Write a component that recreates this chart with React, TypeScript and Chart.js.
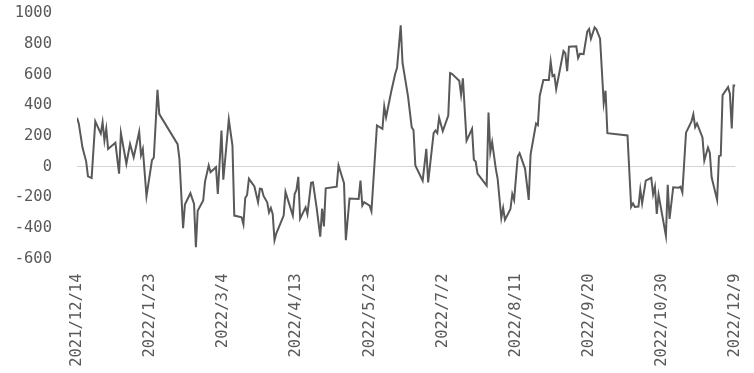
import React, { useEffect, useRef } from "react";
import { Chart, registerables } from "chart.js";

Chart.register(...registerables);

const startDate = "2021/12/14";

const dates = [
  "2021/12/14", "2021/12/15", "2021/12/17", "2021/12/19", "2021/12/20", "2021/12/22", "2021/12/24",
  "2021/12/27", "2021/12/28", "2021/12/29", "2021/12/30", "2021/12/31",
  "2022/1/4", "2022/1/6", "2022/1/7", "2022/1/10", "2022/1/12", "2022/1/14", "2022/1/17", "2022/1/18",
  "2022/1/19", "2022/1/21", "2022/1/24", "2022/1/25", "2022/1/27", "2022/1/28",
  "2022/2/7", "2022/2/8", "2022/2/10", "2022/2/11", "2022/2/14", "2022/2/16", "2022/2/17", "2022/2/18",
  "2022/2/21", "2022/2/22", "2022/2/24", "2022/2/25", "2022/2/28",
  "2022/3/1", "2022/3/3", "2022/3/4", "2022/3/7", "2022/3/9", "2022/3/10", "2022/3/14", "2022/3/15",
  "2022/3/16", "2022/3/17", "2022/3/18", "2022/3/21", "2022/3/23", "2022/3/24", "2022/3/25", "2022/3/26",
  "2022/3/28", "2022/3/29", "2022/3/30", "2022/3/31",
  "2022/4/1", "2022/4/2", "2022/4/6", "2022/4/7", "2022/4/11", "2022/4/12", "2022/4/13", "2022/4/14",
  "2022/4/15", "2022/4/18", "2022/4/19", "2022/4/21", "2022/4/22", "2022/4/24", "2022/4/26", "2022/4/27",
  "2022/4/28", "2022/4/29",
  "2022/5/5", "2022/5/6", "2022/5/9", "2022/5/10", "2022/5/12", "2022/5/17", "2022/5/18", "2022/5/19",
  "2022/5/20", "2022/5/23", "2022/5/24", "2022/5/27", "2022/5/30", "2022/5/31",
  "2022/6/1", "2022/6/4", "2022/6/6", "2022/6/7", "2022/6/9", "2022/6/10", "2022/6/13", "2022/6/15",
  "2022/6/16", "2022/6/17", "2022/6/21", "2022/6/23", "2022/6/24", "2022/6/27", "2022/6/28", "2022/6/29",
  "2022/6/30",
  "2022/7/2", "2022/7/5", "2022/7/6", "2022/7/7", "2022/7/11", "2022/7/12", "2022/7/13", "2022/7/15",
  "2022/7/18", "2022/7/19", "2022/7/20", "2022/7/21", "2022/7/26", "2022/7/27", "2022/7/28", "2022/7/29",
  "2022/7/31",
  "2022/8/1", "2022/8/3", "2022/8/4", "2022/8/5", "2022/8/8", "2022/8/9", "2022/8/10", "2022/8/12",
  "2022/8/13", "2022/8/16", "2022/8/18", "2022/8/19", "2022/8/22", "2022/8/23", "2022/8/24", "2022/8/26",
  "2022/8/29", "2022/8/30", "2022/8/31",
  "2022/9/1", "2022/9/2", "2022/9/6", "2022/9/7", "2022/9/8", "2022/9/9", "2022/9/13", "2022/9/14",
  "2022/9/15", "2022/9/17", "2022/9/19", "2022/9/20", "2022/9/21", "2022/9/23", "2022/9/24", "2022/9/26",
  "2022/9/28", "2022/9/29", "2022/9/30",
  "2022/10/11", "2022/10/13", "2022/10/14", "2022/10/15", "2022/10/17", "2022/10/18", "2022/10/19",
  "2022/10/21", "2022/10/24", "2022/10/25", "2022/10/26", "2022/10/27", "2022/10/28",
  "2022/11/1", "2022/11/2", "2022/11/3", "2022/11/5", "2022/11/8", "2022/11/9", "2022/11/10", "2022/11/12",
  "2022/11/15", "2022/11/16", "2022/11/17", "2022/11/18", "2022/11/21", "2022/11/22", "2022/11/24",
  "2022/11/25", "2022/11/26", "2022/11/29", "2022/11/30",
  "2022/12/1", "2022/12/2", "2022/12/5", "2022/12/6", "2022/12/7", "2022/12/8", "2022/12/9",
];

const values = [
  318, 280, 124, 34, -64, -75, 295,
  215, 289, 170, 247, 115,
  155, -46, 219, 18, 148, 61, 226, 75,
  115, -194, 42, 58, 501, 342,
  146, 50, -402, -248, -174, -244, -527, -288,
  -222, -98, 7, -37, -4,
  -179, 235, -86, 307, 137, -320, -331, -377,
  -205, -185, -80, -130, -233, -144, -146, -192,
  -233, -299, -270, -309,
  -481, -436, -320, -165, -320, -179, -153, -67,
  -340, -266, -311, -106, -103, -266, -458, -275,
  -391, -142,
  -131, 7, -109, -481, -209, -211, -92, -255,
  -233, -255, -292, 268, 246, 392,
  322, 500, 606, 645, 922, 676, 458, 257,
  237, 7, -92, 115, -103, 218, 235, 218,
  318,
  231, 333, 610, 605, 560, 469, 575, 168,
  246, 44, 33, -46, -124, 353, 93, 159,
  -15,
  -80, -336, -271, -348, -277, -179, -218, 66,
  87, -15, -218, 78, 281, 270, 461, 565,
  565, 684, 590,
  598, 505, 754, 740, 622, 782, 785, 709,
  736, 734, 881, 898, 834, 908, 895, 834,
  414, 495, 218,
  203, -263, -240, -263, -261, -149, -240,
  -92, -74, -182, -131, -309, -185,
  -451, -119, -342, -135, -138, -131, -168, 221,
  295, 341, 257, 281, 190, 39, 124,
  90, -70, -218, 68,
  72, 466, 518, 475, 248, 529, 529,
];

const xTickDates = [
  "2021/12/14", "2022/1/23", "2022/3/4", "2022/4/13", "2022/5/23",
  "2022/7/2", "2022/8/11", "2022/9/20", "2022/10/30", "2022/12/9",
];

const yMin = -600;
const yMax = 1000;
const yStep = 200;

function toUTC(s: string): number {
  const [y, m, d] = s.split("/").map(Number);
  return Date.UTC(y, m - 1, d);
}

function dayOffset(s: string): number {
  return Math.round((toUTC(s) - toUTC(startDate)) / 86400000);
}

const FONT = "'DejaVu Sans Mono', monospace";
const TEXT = "#595959";
const CLEAR = "rgba(0,0,0,0)";

export default function App() {
  const canvasRef = useRef<HTMLCanvasElement | null>(null);

  useEffect(() => {
    if (!canvasRef.current) return;
    const points = dates.map((d, i) => ({ x: dayOffset(d), y: values[i] }));
    const tickMap = new Map<number, string>();
    xTickDates.forEach((d) => tickMap.set(dayOffset(d), d));
    const xMax = dayOffset(xTickDates[xTickDates.length - 1]);

    const chart = new Chart(canvasRef.current, {
      type: "line",
      data: {
        datasets: [
          {
            data: points,
            borderColor: "#595959",
            borderWidth: 2,
            pointRadius: 0,
            tension: 0,
            fill: false,
          },
        ],
      },
      options: {
        animation: false,
        responsive: false,
        maintainAspectRatio: false,
        parsing: false,
        layout: { padding: { top: 13.3, right: 15, left: 0, bottom: 0 } },
        plugins: {
          legend: { display: false },
          tooltip: { enabled: false },
        },
        scales: {
          x: {
            type: "linear",
            min: 0,
            max: xMax,
            grid: { display: false, drawTicks: true, tickLength: 15, tickColor: CLEAR },
            border: { display: false },
            afterBuildTicks: (scale: any) => {
              scale.ticks = xTickDates.map((d) => ({ value: dayOffset(d) }));
            },
            afterFit: (scale: any) => {
              scale.height = 114.5;
            },
            ticks: {
              autoSkip: false,
              minRotation: 90,
              maxRotation: 90,
              padding: 0,
              color: TEXT,
              font: { family: FONT, size: 15.5 },
              callback: (v: any) => tickMap.get(Math.round(Number(v))) ?? "",
            },
          },
          y: {
            type: "linear",
            min: yMin,
            max: yMax,
            grid: {
              drawTicks: true,
              tickLength: 25,
              tickColor: CLEAR,
              color: (ctx: any) => (ctx.tick && ctx.tick.value === 0 ? "#d4d4d4" : CLEAR),
              lineWidth: 1,
            },
            border: { display: false },
            afterFit: (scale: any) => {
              scale.width = 77;
            },
            ticks: {
              stepSize: yStep,
              padding: 0,
              color: TEXT,
              font: { family: FONT, size: 15.5 },
              callback: (v: any) => String(v),
            },
          },
        },
      },
    });
    return () => chart.destroy();
  }, []);

  return (
    <div style={{ position: "fixed", left: 0, top: 0, width: 754, height: 373, background: "#fff" }}>
      <canvas ref={canvasRef} width={754} height={373} style={{ width: 754, height: 373 }} />
    </div>
  );
}
